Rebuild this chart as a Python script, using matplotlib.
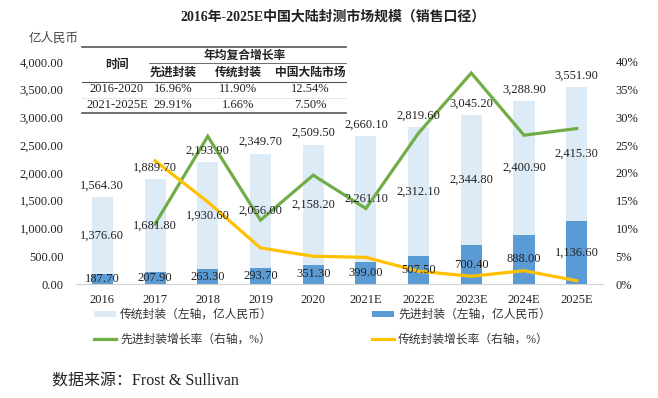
import matplotlib
matplotlib.use("Agg")
import matplotlib.pyplot as plt
import numpy as np
from matplotlib.lines import Line2D
from matplotlib.patches import Patch
from matplotlib.ticker import FuncFormatter

plt.rcParams["font.family"] = ["Liberation Serif", "Noto Sans CJK SC"]

years = ["2016", "2017", "2018", "2019", "2020", "2021E", "2022E", "2023E", "2024E", "2025E"]
advanced = [187.70, 207.90, 263.30, 293.70, 351.30, 399.00, 507.50, 700.40, 888.00, 1136.60]
traditional = [1376.60, 1681.80, 1930.60, 2056.00, 2158.20, 2261.10, 2312.10, 2344.80, 2400.90, 2415.30]
totals = [1564.30, 1889.70, 2193.90, 2349.70, 2509.50, 2660.10, 2819.60, 3045.20, 3288.90, 3551.90]

# growth rates (%), starting 2017
adv_growth = [10.8, 26.6, 11.5, 19.6, 13.6, 27.2, 38.0, 26.8, 28.0]
trad_growth = [22.2, 14.8, 6.5, 5.0, 4.8, 2.3, 1.4, 2.4, 0.6]

cagr_header = ["先进封装", "传统封装", "中国大陆市场"]
cagr_rows = [
    ["2016-2020", "16.96%", "11.90%", "12.54%"],
    ["2021-2025E", "29.91%", "1.66%", "7.50%"],
]

LIGHT = "#DDEBF7"
DARK = "#5B9BD5"
GREEN = "#70AD47"
YELLOW = "#FFC000"
TXT = "#222222"

fig = plt.figure(figsize=(6.58, 3.98), dpi=100)
ax = fig.add_axes([0.1155, 0.2864, 0.801, 0.558])
ax2 = ax.twinx()

x = np.arange(len(years))
w = 0.4
ax.bar(x, advanced, w, color=DARK, zorder=2)
ax.bar(x, traditional, w, bottom=advanced, color=LIGHT, zorder=2)

ax.set_xlim(-0.5, len(years) - 0.5)
ax.set_ylim(0, 4000)
ax.set_yticks(np.arange(0, 4001, 500))
ax.yaxis.set_major_formatter(FuncFormatter(lambda v, p: f"{v:,.2f}"))
ax.set_xticks(x)
ax.set_xticklabels(years)
ax.tick_params(axis="both", length=0, labelsize=9, colors=TXT)
ax.tick_params(axis="y", pad=9)
ax.tick_params(axis="x", pad=7)

ax2.plot(x[1:], adv_growth, color=GREEN, lw=2.3, zorder=3, solid_joinstyle="miter")
ax2.plot(x[1:], trad_growth, color=YELLOW, lw=2.3, zorder=3, solid_joinstyle="miter")
ax2.set_ylim(0, 40)
ax2.set_yticks(np.arange(0, 41, 5))
ax2.yaxis.set_major_formatter(FuncFormatter(lambda v, p: f"{v:.0f}%"))
ax2.tick_params(axis="y", length=0, labelsize=9, colors=TXT, pad=9)

for a in (ax, ax2):
    for s in a.spines.values():
        s.set_visible(False)
ax.spines["bottom"].set_visible(True)
ax.spines["bottom"].set_color("#D0D0D0")

# data labels drawn on ax2 so they sit above the lines
for i in range(len(years)):
    ax2.text(x[i], advanced[i] / 2, f"{advanced[i]:,.2f}", transform=ax.transData,
             ha="center", va="center", fontsize=9, color=TXT, zorder=5)
    ax2.text(x[i], advanced[i] + traditional[i] / 2, f"{traditional[i]:,.2f}",
             transform=ax.transData, ha="center", va="center", fontsize=9, color=TXT, zorder=5)
    ax2.annotate(f"{totals[i]:,.2f}", (x[i], totals[i]), xycoords=ax.transData,
                 xytext=(0, 4), textcoords="offset points",
                 ha="center", va="bottom", fontsize=9, color=TXT, zorder=5)


def fy(py):
    return 1 - py / 398


def fx(px):
    return px / 658


fig.text(fx(333), fy(17), "2016年-2025E中国大陆封测市场规模（销售口径）", ha="center", va="center",
         fontsize=10, fontweight="bold", color=TXT)
fig.text(fx(54), fy(39), "亿人民币", ha="center", va="center", fontsize=9, color="#444444")

# CAGR table
tx0, tx1 = fx(82), fx(346)
for py, lw, xs in [(47, 1.2, tx0), (63, 0.6, fx(149)), (82, 0.8, tx0), (113, 1.2, tx0)]:
    fig.add_artist(Line2D([xs, tx1], [fy(py), fy(py)], color="#555555", lw=lw))
fig.add_artist(Line2D([tx0, tx1], [fy(97.5), fy(97.5)], color="#DDDDDD", lw=0.5))

col_x = [fx(117), fx(173), fx(238), fx(310)]
fig.text(col_x[0], fy(65), "时间", ha="center", va="center", fontsize=8.5, fontweight="bold", color=TXT)
fig.text((col_x[1] + col_x[3]) / 2 + 0.005, fy(56), "年均复合增长率", ha="center", va="center",
         fontsize=8.5, fontweight="bold", color=TXT)
for cx, h in zip(col_x[1:], cagr_header):
    fig.text(cx, fy(73), h, ha="center", va="center", fontsize=8.5, fontweight="bold", color=TXT)
for py, row in zip([89, 105], cagr_rows):
    for cx, val in zip(col_x, row):
        fig.text(cx, fy(py), val, ha="center", va="center", fontsize=9, color=TXT)

# legend, two columns
h_trad = Patch(facecolor=LIGHT, edgecolor="none")
h_adv = Patch(facecolor=DARK, edgecolor="none")
h_g = Line2D([], [], color=GREEN, lw=2.3)
h_y = Line2D([], [], color=YELLOW, lw=2.3)
leg_kw = dict(frameon=False, fontsize=8.5, handlelength=1.9, handleheight=0.45,
              handletextpad=0.3, labelspacing=1.05, borderpad=0, borderaxespad=0,
              labelcolor="#333333")
fig.legend([h_trad, h_g], ["传统封装（左轴，亿人民币）", "先进封装增长率（右轴，%）"],
           loc="upper left", bbox_to_anchor=(fx(94), fy(309)), **leg_kw)
fig.legend([h_adv, h_y], ["先进封装（左轴，亿人民币）", "传统封装增长率（右轴，%）"],
           loc="upper left", bbox_to_anchor=(fx(372), fy(309)), **leg_kw)

fig.text(fx(52), fy(382), "数据来源：Frost & Sullivan", ha="left", va="center",
         fontsize=11.5, color=TXT)

fig.savefig("out.png", dpi=100)
